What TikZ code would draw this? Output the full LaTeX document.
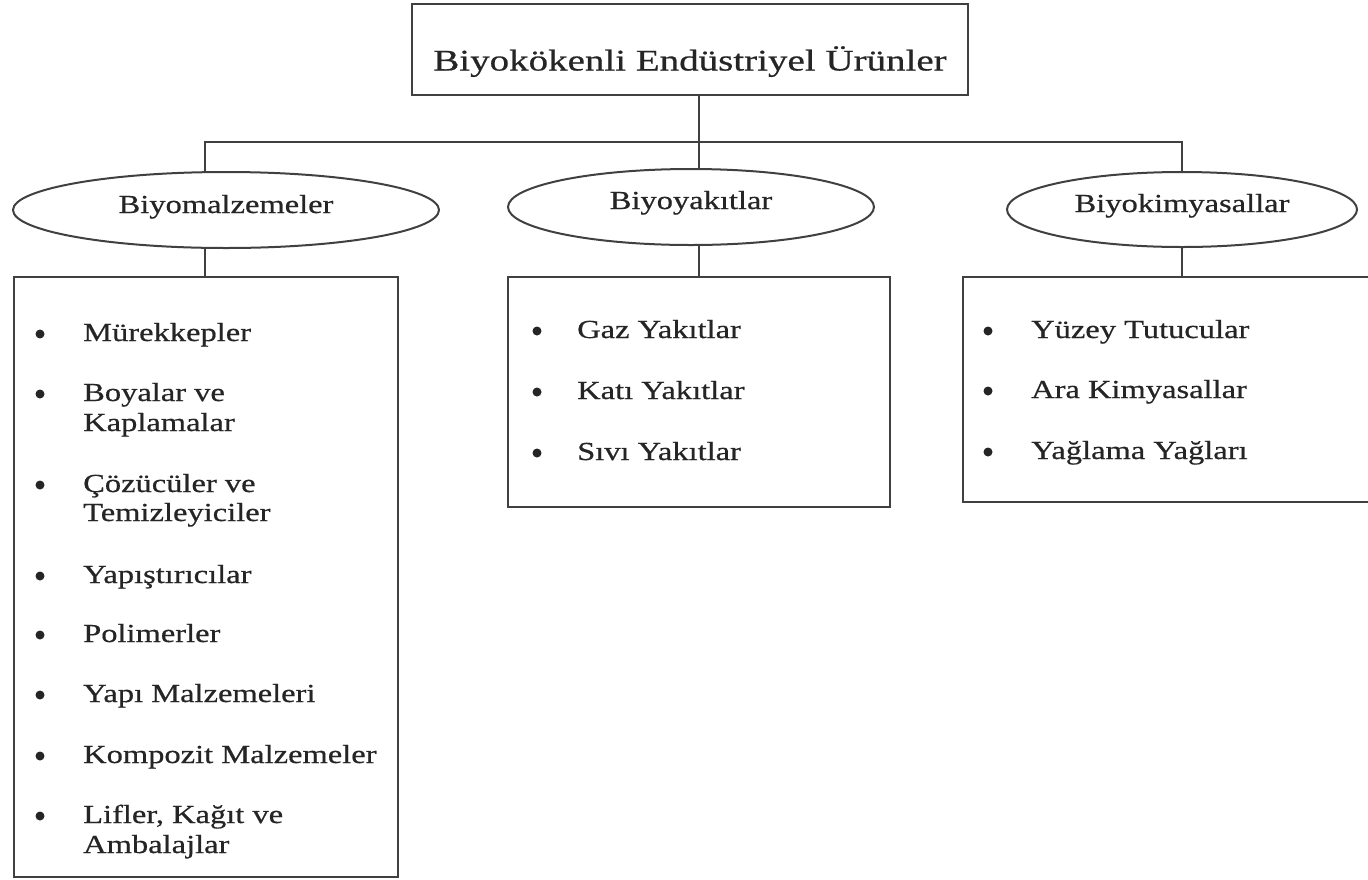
\documentclass[tikz,border=0pt]{standalone}
\usepackage{fontspec}
\setmainfont[FakeStretch=1.25,FakeBold=0.6]{Liberation Serif}
\newfontfamily\titlefont[FakeStretch=1.3,FakeBold=0.6]{Liberation Serif}
\usetikzlibrary{shapes.geometric}
\definecolor{ink}{HTML}{252525}
\definecolor{edge}{HTML}{404040}
\tikzset{
  lw/.style={line width=2pt, draw=edge},
  catnode/.style={ellipse, lw, inner sep=0pt, text=ink, font=\fontsize{26}{30}\selectfont},
  listbox/.style={lw},
  itemtxt/.style={anchor=base west, inner sep=0pt, text=ink, font=\fontsize{26}{30}\selectfont},
  bul/.style={circle, fill=ink, inner sep=0pt, minimum size=9pt},
}
\begin{document}
\begin{tikzpicture}[x=1pt,y=-1pt]
\useasboundingbox (0,0) rectangle (1368,879);
\clip (0,0) rectangle (1368,879);
% root
\node[lw, rectangle, minimum width=556pt, minimum height=91pt, inner sep=0pt, text=ink,
      font=\titlefont\fontsize{30}{34}\selectfont] (root) at (690,49.5) {\raisebox{-21pt}[0pt][0pt]{Biyokökenli Endüstriyel Ürünler}};
% categories
\node[catnode, minimum width=426pt, minimum height=76pt] (e1) at (226,210) {\raisebox{-3pt}[0pt][0pt]{Biyomalzemeler}};
\node[catnode, minimum width=366pt, minimum height=76pt] (e2) at (691,207) {\raisebox{-2pt}[0pt][0pt]{Biyoyakıtlar}};
\node[catnode, minimum width=350pt, minimum height=75pt] (e3) at (1182,209.5) {\raisebox{-2.5pt}[0pt][0pt]{Biyokimyasallar}};
% boxes
\node[listbox, rectangle, minimum width=384pt, minimum height=600pt, inner sep=0pt] (b1) at (206,577) {};
\node[listbox, rectangle, minimum width=382pt, minimum height=230pt, inner sep=0pt] (b2) at (699,392) {};
\node[listbox, rectangle, minimum width=430pt, minimum height=225pt, inner sep=0pt] (b3) at (1178,389.5) {};
% junctions
\coordinate (jl) at (205,142);
\coordinate (jm) at (699,142);
\coordinate (jr) at (1182,142);
\draw[lw] (jm |- root.south) -- (jm);
\draw[lw] (jl |- e1.north) -- (jl) -- (jr) -- (jr |- e3.north);
\draw[lw] (jm) -- (jm |- e2.north);
\draw[lw] (jl |- e1.south) -- (jl |- b1.north);
\draw[lw] (jm |- e2.south) -- (jm |- b2.north);
\draw[lw] (jr |- e3.south) -- (jr |- b3.north);
% box 1 items
\node[bul] (u1) at (40,334) {};
\node[itemtxt] (t1) at (83,341) {Mürekkepler};
\node[bul] (u2) at (40,394) {};
\node[itemtxt] (t2) at (83,401) {Boyalar ve};
\node[itemtxt] (t2b) at (83,431) {Kaplamalar};
\node[bul] (u3) at (40,485) {};
\node[itemtxt] (t3) at (83,492) {Çözücüler ve};
\node[itemtxt] (t3b) at (83,521) {Temizleyiciler};
\node[bul] (u4) at (40,576) {};
\node[itemtxt] (t4) at (83,583) {Yapıştırıcılar};
\node[bul] (u5) at (40,635) {};
\node[itemtxt] (t5) at (83,642) {Polimerler};
\node[bul] (u6) at (40,695) {};
\node[itemtxt] (t6) at (83,702) {Yapı Malzemeleri};
\node[bul] (u7) at (40,756) {};
\node[itemtxt] (t7) at (83,763) {Kompozit Malzemeler};
\node[bul] (u8) at (40,816) {};
\node[itemtxt] (t8) at (83,823) {Lifler, Kağıt ve};
\node[itemtxt] (t8b) at (83,853) {Ambalajlar};
% box 2 items
\node[bul] (v1) at (537,331) {};
\node[itemtxt] (s1) at (577,338) {Gaz Yakıtlar};
\node[bul] (v2) at (537,392) {};
\node[itemtxt] (s2) at (577,399) {Katı Yakıtlar};
\node[bul] (v3) at (537,453) {};
\node[itemtxt] (s3) at (577,460) {Sıvı Yakıtlar};
% box 3 items
\node[bul] (w1) at (988,331) {};
\node[itemtxt] (r1) at (1031,338) {Yüzey Tutucular};
\node[bul] (w2) at (988,391) {};
\node[itemtxt] (r2) at (1031,398) {Ara Kimyasallar};
\node[bul] (w3) at (988,452) {};
\node[itemtxt] (r3) at (1031,459) {Yağlama Yağları};
\end{tikzpicture}
\end{document}
